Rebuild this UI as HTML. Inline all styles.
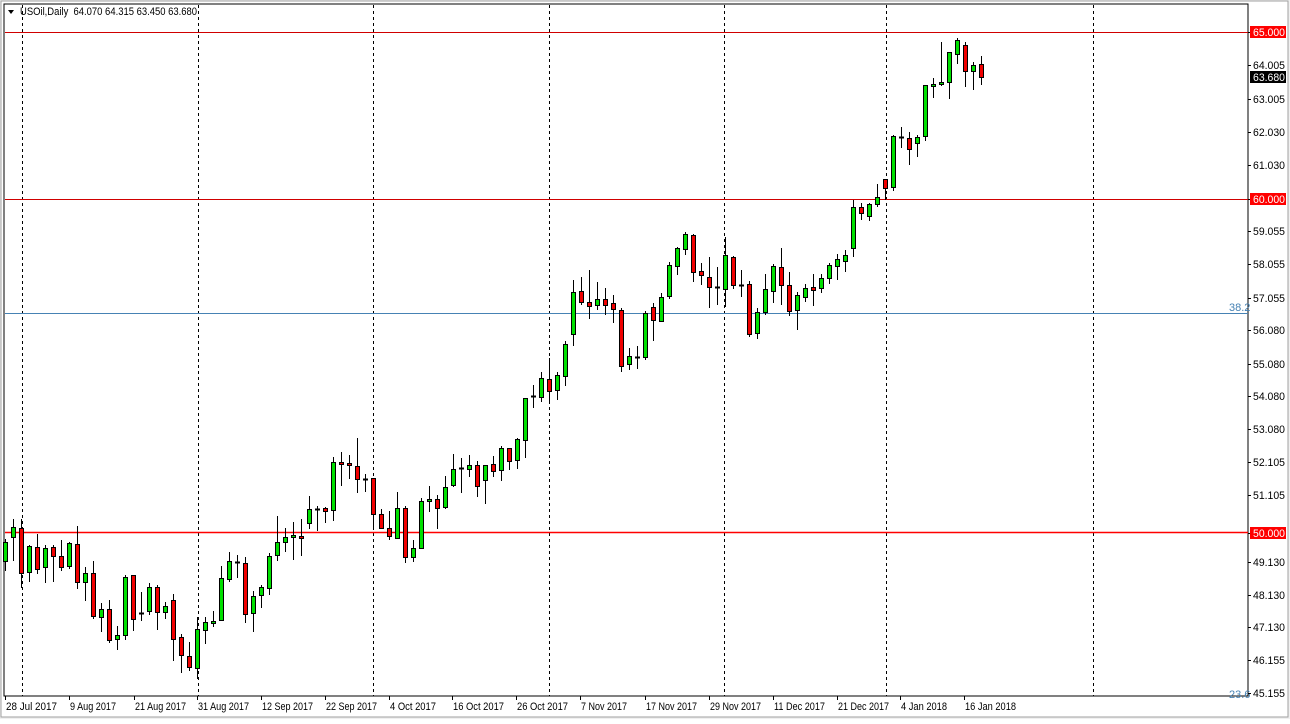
<!DOCTYPE html>
<html><head><meta charset="utf-8"><style>
html,body{margin:0;padding:0;background:#fff;}
body{width:1290px;height:719px;overflow:hidden;position:relative;font-family:"Liberation Sans",Tahoma,sans-serif;}
svg text{font-family:"Liberation Sans",sans-serif;font-size:11px;}
</style></head><body>
<svg id="c" width="1290" height="719" xmlns="http://www.w3.org/2000/svg">
<rect x="0" y="0" width="1290" height="719" fill="#f0f0f0"/>
<rect x="1" y="1" width="1287" height="716" fill="#fff" stroke="#a0a0a0"/>
<rect x="4" y="4" width="1244" height="692" fill="#fff" stroke="#000" stroke-width="1"/>
<g stroke="#000" stroke-dasharray="3,3" stroke-width="1">
<line x1="22.5" y1="5" x2="22.5" y2="696"/><line x1="198.5" y1="5" x2="198.5" y2="696"/>
<line x1="373.5" y1="5" x2="373.5" y2="696"/><line x1="549.5" y1="5" x2="549.5" y2="696"/>
<line x1="724.5" y1="5" x2="724.5" y2="696"/><line x1="886.5" y1="5" x2="886.5" y2="696"/>
<line x1="1093.5" y1="5" x2="1093.5" y2="696"/>
</g>
<line x1="5" y1="32.5" x2="1248" y2="32.5" stroke="#d00000"/>
<line x1="5" y1="199.5" x2="1248" y2="199.5" stroke="#d00000"/>
<line x1="5" y1="532.5" x2="1248" y2="532.5" stroke="#ff0000" stroke-width="1.5"/>
<line x1="5" y1="313.5" x2="1248" y2="313.5" stroke="#4682b4"/>
<text x="1229" y="311" fill="#4682b4" font-size="10">38.2</text>
<text x="1229" y="698" fill="#4682b4" font-size="10">23.6</text>
<g id="cand"></g>
<g id="axis"></g>
<polygon points="8,10 14,10 11,14" fill="#000"/>
<text x="20" y="15" fill="#000" textLength="177" lengthAdjust="spacingAndGlyphs">USOil,Daily&#160;&#160;64.070 64.315 63.450 63.680</text>
</svg>
<script>
var d=[
[542,561,539,571,'g'],[527,537,519,561,'g'],[528,573,519,588,'r'],[546,572,545,582,'g'],[547,569,534,574,'r'],
[548,567,545,583,'g'],[547,556,545,582,'r'],[556,567,540,571,'r'],[543,566,542,569,'g'],[544,582,526,589,'r'],
[573,582,567,601,'g'],[573,616,561,619,'r'],[609,617,603,632,'g'],[609,640,600,643,'r'],[635,639,626,650,'g'],
[577,635,575,640,'g'],[575,619,575,631,'r'],[613,613,592,621,'d'],[587,611,583,615,'g'],[587,612,585,630,'r'],
[606,612,602,619,'g'],[600,639,594,661,'r'],[637,655,634,673,'r'],[656,667,642,671,'r'],[629,668,617,679,'g'],
[622,630,617,644,'g'],[621,623,611,627,'g'],[578,620,566,621,'g'],[561,579,552,582,'g'],[562,562,555,578,'d'],
[563,614,557,623,'r'],[596,613,591,632,'g'],[587,595,585,608,'g'],[556,588,553,595,'g'],[542,555,516,561,'g'],
[537,542,528,552,'g'],[535,537,522,560,'g'],[536,538,519,556,'r'],[509,523,496,529,'g'],[509,509,506,531,'d'],
[508,511,507,523,'r'],[462,510,457,521,'g'],[462,464,452,486,'r'],[463,465,455,479,'r'],[466,479,438,493,'r'],
[479,479,474,492,'d'],[478,514,478,530,'r'],[514,528,509,529,'r'],[528,536,511,540,'r'],[508,538,492,539,'g'],
[508,557,506,563,'r'],[548,557,540,562,'g'],[501,548,498,548,'g'],[499,501,486,512,'g'],[499,508,495,529,'r'],
[487,507,476,509,'g'],[469,485,454,487,'g'],[468,468,458,493,'d'],[465,469,455,477,'g'],[465,486,461,497,'r'],
[465,480,465,504,'g'],[464,471,456,477,'r'],[448,470,446,481,'g'],[448,461,448,470,'r'],[439,460,438,469,'g'],
[398,440,398,458,'g'],[396,396,385,408,'d'],[378,397,372,402,'g'],[379,391,358,403,'r'],[375,390,372,400,'g'],
[344,376,341,386,'g'],[292,334,280,346,'g'],[291,302,277,305,'r'],[302,306,270,319,'r'],[299,305,282,310,'g'],
[299,305,288,315,'r'],[303,309,295,323,'r'],[310,366,308,372,'r'],[356,364,348,370,'g'],[357,357,346,369,'d'],
[313,357,311,360,'g'],[307,320,303,341,'r'],[297,321,293,322,'g'],[265,296,262,299,'g'],[248,266,247,275,'g'],
[234,249,232,255,'g'],[235,272,234,282,'r'],[271,275,263,285,'r'],[277,287,257,308,'r'],[287,287,267,305,'d'],
[255,289,237,307,'g'],[257,285,256,289,'r'],[285,285,270,297,'d'],[284,334,281,337,'r'],[312,333,308,339,'g'],
[289,312,274,315,'g'],[266,291,264,303,'g'],[267,285,248,305,'r'],[285,311,272,316,'r'],[295,310,292,330,'g'],
[288,297,284,302,'g'],[287,290,274,306,'r'],[278,288,274,293,'g'],[265,278,263,284,'g'],[259,266,254,280,'g'],
[255,261,250,272,'g'],[207,248,200,257,'g'],[207,213,203,220,'r'],[204,216,203,221,'g'],[197,204,184,207,'g'],
[179,188,179,200,'r'],[136,187,135,191,'g'],[137,137,127,148,'d'],[138,149,132,165,'r'],[137,143,135,157,'g'],
[85,136,85,141,'g'],[84,86,78,98,'g'],[82,84,42,86,'g'],[52,82,52,99,'g'],[40,54,38,64,'g'],
[45,71,42,87,'r'],[65,71,62,90,'g'],[64,77,56,85,'r']];
var g=document.getElementById('cand'),s='';
for(var i=0;i<d.length;i++){var c=d[i],x=5.5+8*i;
s+='<line x1="'+x+'" y1="'+c[2]+'" x2="'+x+'" y2="'+c[3]+'" stroke="#000"/>';
if(c[4]=='d'){s+='<line x1="'+(x-2.5)+'" y1="'+(c[0]+.5)+'" x2="'+(x+2.5)+'" y2="'+(c[0]+.5)+'" stroke="#000" stroke-width="2"/>';}
else{var h=Math.max(c[1]-c[0],2);s+='<rect x="'+(x-2)+'" y="'+(c[0]+.5)+'" width="4" height="'+h+'" fill="'+(c[4]=='g'?'#00e000':'#f00000')+'" stroke="#000"/>';}}
g.innerHTML=s;
var ax=document.getElementById('axis'),t='';
var L=[[32,'65.000'],[65,'64.005'],[99,'63.005'],[132,'62.030'],[165,'61.030'],[199,'60.000'],[231,'59.055'],[264,'58.055'],[298,'57.055'],[330,'56.080'],[364,'55.080'],[396,'54.080'],[429,'53.080'],[462,'52.105'],[495,'51.105'],[533,'50.000'],[562,'49.130'],[595,'48.130'],[627,'47.130'],[660,'46.155'],[693,'45.155']];
for(var j=0;j<L.length;j++){var y=L[j][0];t+='<line x1="1248" y1="'+(y+.5)+'" x2="1251" y2="'+(y+.5)+'" stroke="#000"/>';
if(L[j][1]=='65.000'||L[j][1]=='60.000'||L[j][1]=='50.000'){t+='<rect x="1250" y="'+(y-6)+'" width="36" height="12" fill="#ff0000"/><text x="1253" y="'+(y+4)+'" fill="#fff" textLength="32" lengthAdjust="spacingAndGlyphs">'+L[j][1]+'</text>';}
else{t+='<text x="1253" y="'+(y+4)+'" fill="#000" textLength="32" lengthAdjust="spacingAndGlyphs">'+L[j][1]+'</text>';}}
t+='<rect x="1250" y="71" width="36" height="12" fill="#000"/><text x="1253" y="81" fill="#fff" textLength="32" lengthAdjust="spacingAndGlyphs">63.680</text>';
var D=[[5,'28 Jul 2017'],[69,'9 Aug 2017'],[134,'21 Aug 2017'],[197,'31 Aug 2017'],[261,'12 Sep 2017'],[325,'22 Sep 2017'],[389,'4 Oct 2017'],[452,'16 Oct 2017'],[516,'26 Oct 2017'],[580,'7 Nov 2017'],[645,'17 Nov 2017'],[709,'29 Nov 2017'],[773,'11 Dec 2017'],[837,'21 Dec 2017'],[900,'4 Jan 2018'],[964,'16 Jan 2018']];
for(var k=0;k<D.length;k++){var w=Math.round(D[k][1].length*4.6);t+='<line x1="'+(D[k][0]+.5)+'" y1="696" x2="'+(D[k][0]+.5)+'" y2="700" stroke="#000"/><text x="'+(D[k][0]+1)+'" y="710" fill="#000" textLength="'+w+'" lengthAdjust="spacingAndGlyphs">'+D[k][1]+'</text>';}
ax.innerHTML=t;
</script>
</body></html>
